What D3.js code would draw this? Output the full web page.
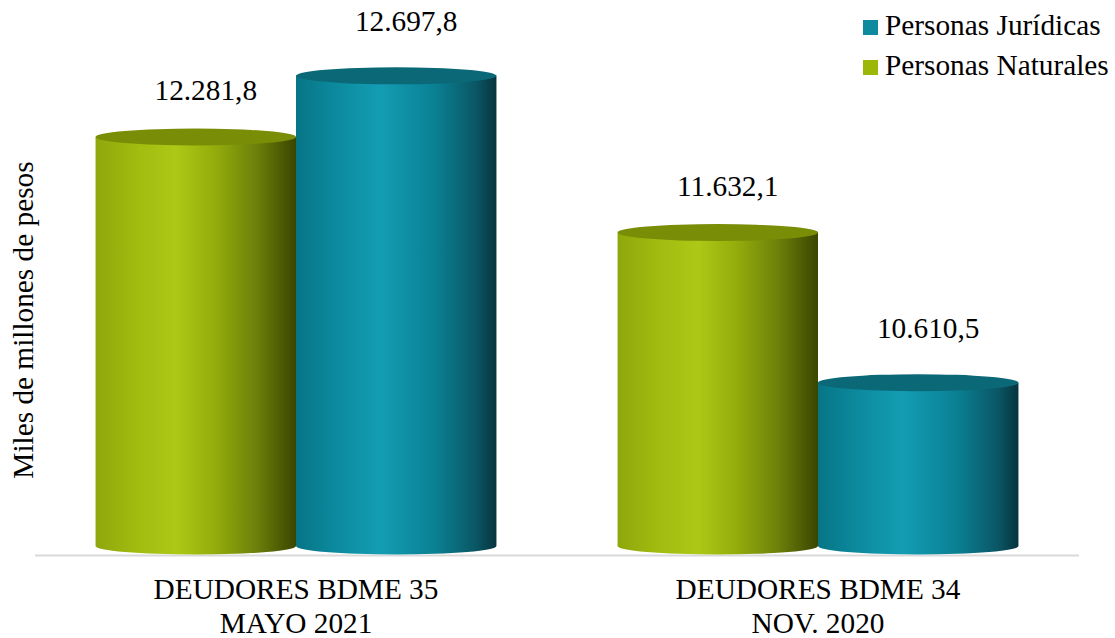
<!DOCTYPE html>
<html>
<head>
<meta charset="utf-8">
<script src="https://cdn.jsdelivr.net/npm/d3@7"></script>
</head>
<body style="margin:0; background:#fff">
<div id="chart"></div>
<script>
var svgWidth = 1115;
var svgHeight = 638;
var FONT = "'Liberation Serif', monospace";
var FSIZE = "29.3px";

// data
var categories = ["DEUDORES BDME 35|MAYO 2021", "DEUDORES BDME 34|NOV. 2020"];
var seriesNames = ["Personas Naturales", "Personas Jurídicas"];
var naturales = [12281.8, 11632.1];
var juridicas = [12697.8, 10610.5];

var table = categories.map(function(c, i) {
  return { cat: c, values: [
    { key: seriesNames[0], value: naturales[i] },
    { key: seriesNames[1], value: juridicas[i] }
  ]};
});

var fmt = d3.formatLocale({ decimal: ",", thousands: ".", grouping: [3], currency: ["$", ""] }).format(",.1f");

var svg = d3.select("#chart").append("svg")
  .attr("width", svgWidth)
  .attr("height", svgHeight);

// gradients for cylinder bodies
var palette = {
  "Personas Naturales": {
    legend: "#9db709", top: "#7a8d07",
    stops: [[0, "#8fa70b"], [0.2, "#a1bb10"], [0.4, "#adc816"], [0.6, "#93ac0b"], [0.8, "#6d800a"], [1, "#3a4600"]]
  },
  "Personas Jurídicas": {
    legend: "#0e8a9f", top: "#0b6977",
    stops: [[0, "#077586"], [0.2, "#0c8a9e"], [0.42, "#139db4"], [0.7, "#0a7f92"], [0.9, "#0a5664"], [1, "#06333e"]]
  }
};

var defs = svg.append("defs");
seriesNames.forEach(function(s, i) {
  var g = defs.append("linearGradient")
    .attr("id", "grad" + i)
    .attr("x1", "0%").attr("x2", "100%").attr("y1", "0%").attr("y2", "0%");
  palette[s].stops.forEach(function(st) {
    g.append("stop").attr("offset", st[0]).attr("stop-color", st[1]);
  });
});

var x0 = d3.scaleBand()
  .domain(categories)
  .range([35, 1079])
  .paddingInner(0.232)
  .paddingOuter(0.116);

var x1 = d3.scaleBand()
  .domain(seriesNames)
  .range([0, x0.bandwidth()]);

var y = d3.scaleLinear()
  .domain([9500, 13200])
  .range([546, 2]);

var ry = 8.5;

// baseline
svg.append("line")
  .attr("x1", 35).attr("x2", 1079)
  .attr("y1", 555.5).attr("y2", 555.5)
  .attr("stroke", "#d9d9d9")
  .attr("stroke-width", 2);

var groups = svg.selectAll(".grp")
  .data(table)
  .enter()
  .append("g")
  .attr("class", "grp")
  .attr("transform", d => `translate(${x0(d.cat)},0)`);

var bars = groups.selectAll(".cyl")
  .data(d => d.values)
  .enter()
  .append("g")
  .attr("class", "cyl");

// body: rect plus lower half ellipse
bars.append("path")
  .attr("d", function(d) {
    var w = x1.bandwidth();
    var left = x1(d.key), right = left + w;
    var yt = y(d.value), yb = y(9500);
    return `M${left},${yt} L${right},${yt} L${right},${yb} A${w / 2},${ry} 0 0 1 ${left},${yb} Z`;
  })
  .attr("fill", d => "url(#grad" + seriesNames.indexOf(d.key) + ")");

// top cap
bars.append("ellipse")
  .attr("cx", d => x1(d.key) + x1.bandwidth() / 2)
  .attr("cy", d => y(d.value))
  .attr("rx", x1.bandwidth() / 2)
  .attr("ry", ry)
  .attr("fill", d => palette[d.key].top);

// value labels
bars.append("text")
  .attr("x", d => x1(d.key) + x1.bandwidth() / 2 + 10)
  .attr("y", d => y(d.value) - (d.key === seriesNames[1] ? 45 : 37))
  .attr("text-anchor", "middle")
  .style("font-family", FONT)
  .style("font-size", FSIZE)
  .text(d => fmt(d.value));

// category labels
var catLabels = svg.selectAll(".cat")
  .data(categories)
  .enter()
  .append("text")
  .attr("class", "cat")
  .attr("text-anchor", "middle")
  .style("font-family", FONT)
  .style("font-size", FSIZE);

catLabels.selectAll("tspan")
  .data(c => c.split("|").map(t => ({ t: t, x: x0(c) + x0.bandwidth() / 2 })))
  .enter()
  .append("tspan")
  .attr("x", d => d.x)
  .attr("y", (d, i) => 599 + i * 34)
  .text(d => d.t);

// y axis title
svg.append("text")
  .attr("transform", "translate(33,320) rotate(-90)")
  .attr("text-anchor", "middle")
  .style("font-family", FONT)
  .style("font-size", FSIZE)
  .text("Miles de millones de pesos");

// legend (Jurídicas first, as in the picture)
var legendOrder = [seriesNames[1], seriesNames[0]];
var legend = svg.selectAll(".leg")
  .data(legendOrder)
  .enter()
  .append("g")
  .attr("class", "leg")
  .attr("transform", (d, i) => `translate(863,${35 + i * 40})`);

legend.append("rect")
  .attr("x", 0).attr("y", -15)
  .attr("width", 15).attr("height", 15)
  .attr("fill", d => palette[d].legend);

legend.append("text")
  .attr("x", 22)
  .attr("y", 0)
  .style("font-family", FONT)
  .style("font-size", FSIZE)
  .text(d => d);
</script>
</body>
</html>
